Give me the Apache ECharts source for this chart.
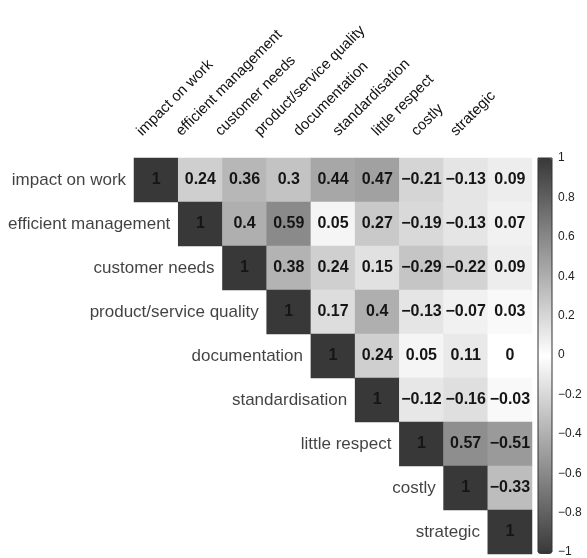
<!DOCTYPE html>
<html>
<head>
<meta charset="utf-8">
<script src="https://cdn.jsdelivr.net/npm/echarts@6/dist/echarts.min.js"></script>
<style>
  html, body { margin: 0; padding: 0; background: #fff; }
  #chart { width: 587px; height: 558px; }
</style>
</head>
<body>
<div id="chart"></div>
<script type="text/javascript">
    // variable names (rows and columns are the same)
    var names = ['impact on work', 'efficient management', 'customer needs', 'product/service quality',
                 'documentation', 'standardisation', 'little respect', 'costly', 'strategic'];

    // upper triangle of the correlation matrix, one row per variable (starting at the diagonal)
    var row0 = [1, 0.24, 0.36, 0.3, 0.44, 0.47, -0.21, -0.13, 0.09];
    var row1 = [1, 0.4, 0.59, 0.05, 0.27, -0.19, -0.13, 0.07];
    var row2 = [1, 0.38, 0.24, 0.15, -0.29, -0.22, 0.09];
    var row3 = [1, 0.17, 0.4, -0.13, -0.07, 0.03];
    var row4 = [1, 0.24, 0.05, 0.11, 0];
    var row5 = [1, -0.12, -0.16, -0.03];
    var row6 = [1, 0.57, -0.51];
    var row7 = [1, -0.33];
    var row8 = [1];

    // colour bar ticks
    var barTicks = [-1, -0.8, -0.6, -0.4, -0.2, 0, 0.2, 0.4, 0.6, 0.8, 1];

    var rows = [row0, row1, row2, row3, row4, row5, row6, row7, row8];
    var cells = [];
    rows.forEach(function (r, i) {
        r.forEach(function (v, k) {
            cells.push([i + k, i, v]);
        });
    });
    var diag = names.map(function (n, i) { return [i, i]; });

    function fmt(v) {
        var s = String(Math.abs(v));
        return v < 0 ? '\u2212' + s : s;
    }

    var font = 'Liberation Sans, Arial, sans-serif';
    var myChart = echarts.init(document.getElementById('chart'));

    var option = {
        animation: false,
        textStyle: { fontFamily: font },
        grid: [
            { left: 134, top: 158, width: 398, height: 396 },
            { left: 538, top: 158, width: 14, height: 396, show: true, borderColor: '#333', borderWidth: 1,
              backgroundColor: 'transparent', z: 10 },
            // column headings sit on a slightly narrower band than the cells
            { left: 125, top: 158, width: 353, height: 396 }
        ],
        xAxis: [
            {
                type: 'category',
                data: names,
                position: 'top',
                gridIndex: 0,
                show: false
            },
            { type: 'value', gridIndex: 1, show: false },
            {
                type: 'category',
                data: names,
                position: 'top',
                gridIndex: 2,
                axisLine: { show: false },
                axisTick: { show: false },
                axisLabel: { rotate: 45, fontSize: 15, color: '#111', margin: 19, interval: 0,
                             align: 'left', verticalAlign: 'bottom' }
            }
        ],
        yAxis: [
            {
                type: 'category',
                data: names,
                inverse: true,
                gridIndex: 0,
                show: false
            },
            {
                type: 'value',
                gridIndex: 1,
                min: -1,
                max: 1,
                interval: 0.2,
                position: 'right',
                axisLine: { show: false },
                splitLine: { show: false },
                axisTick: { show: true, length: 4, lineStyle: { color: '#333' } },
                axisLabel: {
                    fontSize: 12, color: '#222', margin: 6,
                    formatter: function (v) {
                        var r = Math.round(v * 10) / 10;
                        return barTicks.indexOf(r) >= 0 ? fmt(r) : '';
                    }
                }
            },
            { type: 'value', gridIndex: 2, show: false }
        ],
        visualMap: {
            type: 'continuous',
            min: -1,
            max: 1,
            seriesIndex: 0,
            calculable: false,
            orient: 'vertical',
            left: 538,
            top: 158,
            itemWidth: 14,
            itemHeight: 396,
            padding: 0,
            text: ['', ''],
            showLabel: false,
            inRange: { color: ['#383838', '#ffffff', '#383838'] }
        },
        series: [
            {
                type: 'heatmap',
                xAxisIndex: 0,
                yAxisIndex: 0,
                data: cells,
                label: {
                    show: true,
                    fontSize: 16,
                    fontWeight: 'bold',
                    color: '#151515',
                    formatter: function (p) { return fmt(p.value[2]); }
                },
                emphasis: { disabled: true }
            },
            {
                type: 'scatter',
                xAxisIndex: 0,
                yAxisIndex: 0,
                symbolSize: 0,
                data: diag,
                label: {
                    show: true,
                    position: 'left',
                    distance: 30,
                    fontSize: 17,
                    color: '#111',
                    formatter: function (p) { return names[p.dataIndex]; }
                }
            }
        ]
    };

    myChart.setOption(option);
</script>
</body>
</html>
